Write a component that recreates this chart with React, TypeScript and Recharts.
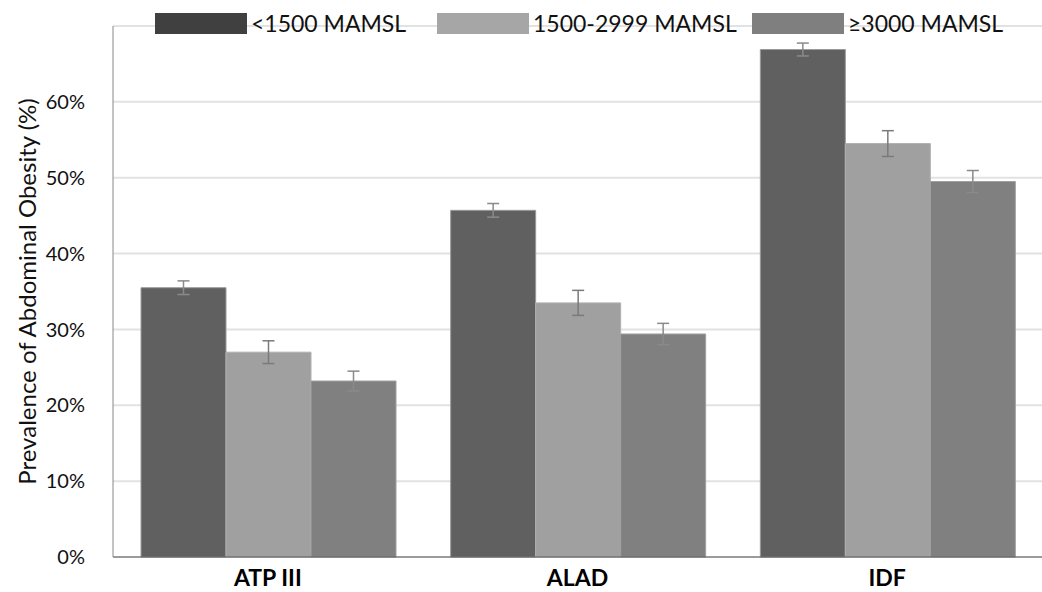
import React from "react";
import {
  BarChart,
  Bar,
  XAxis,
  YAxis,
  CartesianGrid,
  ErrorBar,
  Legend
} from "recharts";

const categories = ["ATP III", "ALAD", "IDF"];

const below1500 = [35.5, 45.7, 66.9];
const below1500Err = [0.9, 0.9, 0.85];

const mid1500 = [27.0, 33.5, 54.5];
const mid1500Err = [1.5, 1.65, 1.7];

const above3000 = [23.2, 29.4, 49.5];
const above3000Err = [1.3, 1.4, 1.45];

const yTicks = [0, 10, 20, 30, 40, 50, 60];

const seriesNames = ["<1500 MAMSL", "1500-2999 MAMSL", "≥3000 MAMSL"];

const FONT = "Lato, 'Open Sans', sans-serif";

const chartData = categories.map((c, i) => ({
  category: c,
  low: below1500[i],
  lowErr: below1500Err[i],
  mid: mid1500[i],
  midErr: mid1500Err[i],
  high: above3000[i],
  highErr: above3000Err[i]
}));

const legendSwatches = ["#404040", "#a6a6a6", "#7f7f7f"];
const legendLefts = [155, 437, 752];

function LegendContent() {
  return (
    <div style={{ position: "relative", width: 1042, height: 40 }}>
      {seriesNames.map((name, i) => (
        <div
          key={name}
          style={{
            position: "absolute",
            left: legendLefts[i],
            top: 13,
            display: "flex",
            alignItems: "center",
            fontFamily: FONT,
            fontSize: 23,
            color: "#111"
          }}
        >
          <span
            style={{
              display: "inline-block",
              width: 92,
              height: 21,
              background: legendSwatches[i],
              marginRight: 4
            }}
          />
          <span style={{ lineHeight: "21px" }}>{name}</span>
        </div>
      ))}
    </div>
  );
}

export default function App() {
  return (
    <div style={{ position: "absolute", left: 0, top: 0, width: 1042, height: 592, background: "#fff" }}>
      <BarChart
        width={1042}
        height={592}
        data={chartData}
        margin={{ top: 26, right: 0, bottom: 0, left: 0 }}
        barCategoryGap={28}
        barGap={0}
      >
        <CartesianGrid vertical={false} stroke="#e2e2e2" strokeWidth={2} />
        <XAxis
          dataKey="category"
          height={35}
          tickLine={false}
          axisLine={{ stroke: "#555" }}
          tickMargin={7}
          tick={{ fontFamily: FONT, fontSize: 23, fontWeight: 700, fill: "#000" }}
        />
        <YAxis
          width={113}
          domain={[0, 70]}
          ticks={yTicks}
          tickFormatter={(v) => `${v}%`}
          tickLine={false}
          axisLine={{ stroke: "#888" }}
          tickMargin={22}
          tick={{ fontFamily: FONT, fontSize: 20, fill: "#111" }}
          label={{
            value: "Prevalence of Abdominal Obesity (%)",
            angle: -90,
            position: "insideLeft",
            offset: 27,
            style: { fontFamily: FONT, fontSize: 24, fill: "#111", textAnchor: "middle" }
          }}
        />
        <Legend
          layout="horizontal"
          verticalAlign="middle"
          align="center"
          wrapperStyle={{ top: 0, left: 0 }}
          content={() => <LegendContent />}
        />
        <Bar dataKey="low" name={seriesNames[0]} fill="#606060" stroke="#9a9a9a" strokeWidth={1} isAnimationActive={false}>
          <ErrorBar dataKey="lowErr" width={6} stroke="#8a8a8a" strokeWidth={1.5} />
        </Bar>
        <Bar dataKey="mid" name={seriesNames[1]} fill="#a0a0a0" stroke="#b0b0b0" strokeWidth={1} isAnimationActive={false}>
          <ErrorBar dataKey="midErr" width={6} stroke="#7a7a7a" strokeWidth={1.5} />
        </Bar>
        <Bar dataKey="high" name={seriesNames[2]} fill="#808080" stroke="#a0a0a0" strokeWidth={1} isAnimationActive={false}>
          <ErrorBar dataKey="highErr" width={6} stroke="#8a8a8a" strokeWidth={1.5} />
        </Bar>
      </BarChart>
    </div>
  );
}
